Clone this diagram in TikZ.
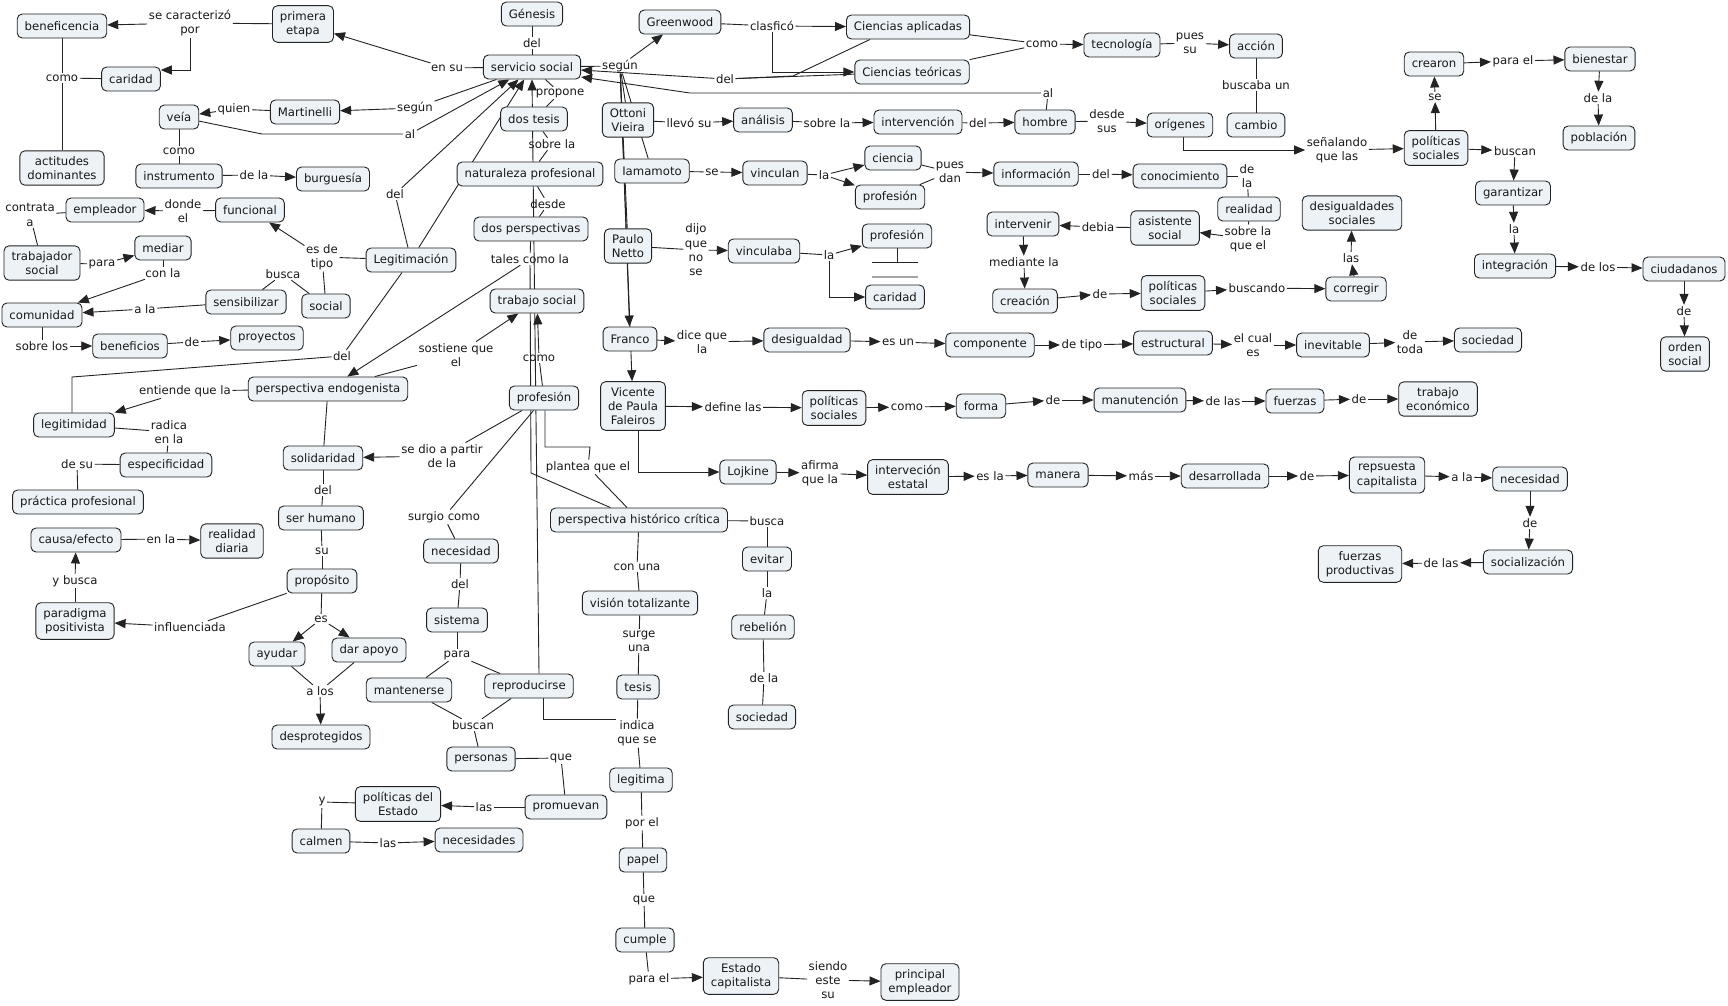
\documentclass[tikz,border=0pt]{standalone}
\usepackage{fontspec}
\setmainfont{DejaVu Sans}
\usetikzlibrary{arrows.meta}
\definecolor{nodefill}{RGB}{236,242,245}
\definecolor{edgecol}{RGB}{35,35,35}
\pgfdeclarelayer{bg}
\pgfsetlayers{bg,main}
\newcommand\cmapfont{\fontsize{11.7}{14.3}\selectfont}
\begin{document}
\begin{tikzpicture}[x=1pt,y=-1pt,
  cpt/.style={draw=edgecol, fill=nodefill, rounded corners=5pt, line width=0.9pt, font=\cmapfont, align=center, inner xsep=7.5pt, inner ysep=5.5pt, minimum height=24pt, text=black!90},
  lbl/.style={font=\cmapfont, align=center, inner sep=1.5pt, text=black!90},
  ln/.style={draw=edgecol, line width=0.9pt},
  ar/.style={ln, -{Triangle[length=11pt,width=9pt]}}]
\useasboundingbox (0,0) rectangle (1728,1005);
% ---------- concepts ----------
\node[cpt] (servicio) at (532,67) {servicio social};
\node[cpt] (genesis) at (532,14) {Génesis};
\node[cpt] (primera) at (303,24) {primera\\etapa};
\node[cpt] (benef) at (62,26) {beneficencia};
\node[cpt] (caridadA) at (131,79) {caridad};
\node[cpt] (actitudes) at (62,168) {actitudes\\dominantes};
\node[cpt] (veia) at (179,117) {veía};
\node[cpt] (martinelli) at (305,112) {Martinelli};
\node[cpt] (instrumento) at (179,176) {instrumento};
\node[cpt] (burguesia) at (333,179) {burguesía};
\node[cpt] (empleador) at (105,210) {empleador};
\node[cpt] (funcional) at (250,210) {funcional};
\node[cpt] (trabajador) at (42,263) {trabajador\\social};
\node[cpt] (mediar) at (163,248) {mediar};
\node[cpt] (legitimacion) at (411,260) {Legitimación};
\node[cpt] (sensibilizar) at (246,302) {sensibilizar};
\node[cpt] (social) at (326,306) {social};
\node[cpt] (comunidad) at (42,315) {comunidad};
\node[cpt] (beneficios) at (130,346) {beneficios};
\node[cpt] (proyectos) at (267,338) {proyectos};
\node[cpt] (pendo) at (328,389) {perspectiva endogenista};
\node[cpt] (legitimidad) at (74,425) {legitimidad};
\node[cpt] (especificidad) at (166,465) {especificidad};
\node[cpt] (practica) at (78,502) {práctica profesional};
\node[cpt] (causa) at (76,540) {causa/efecto};
\node[cpt] (realidadD) at (232,541) {realidad\\diaria};
\node[cpt] (paradigma) at (75,621) {paradigma\\positivista};
\node[cpt] (solidaridad) at (323,458) {solidaridad};
\node[cpt] (serhumano) at (321,518) {ser humano};
\node[cpt] (proposito) at (322,581) {propósito};
\node[cpt] (ayudar) at (277,654) {ayudar};
\node[cpt] (darapoyo) at (369,650) {dar apoyo};
\node[cpt] (desprotegidos) at (321,737) {desprotegidos};
\node[cpt] (mantenerse) at (409,690) {mantenerse};
\node[cpt] (politicasE) at (398,804) {políticas del\\Estado};
\node[cpt] (calmen) at (321,841) {calmen};
\node[cpt] (necesidades) at (479,840) {necesidades};
\node[cpt] (promuevan) at (566,807) {promuevan};
\node[cpt] (personas) at (481,759) {personas};
\node[cpt] (reproducirse) at (529,686) {reproducirse};
\node[cpt] (sistema) at (457,620) {sistema};
\node[cpt] (necesidadL) at (461,551) {necesidad};
\node[cpt] (tesis) at (638,687) {tesis};
\node[cpt] (vision) at (640,603) {visión totalizante};
\node[cpt] (legitima) at (641,780) {legitima};
\node[cpt] (papel) at (643,860) {papel};
\node[cpt] (cumple) at (645,940) {cumple};
\node[cpt] (estadocap) at (741,976) {Estado\\capitalista};
\node[cpt] (principal) at (920,982) {principal\\empleador};
\node[cpt] (rebelion) at (763,627) {rebelión};
\node[cpt] (sociedadB) at (762,717) {sociedad};
\node[cpt] (evitar) at (767,559) {evitar};
\node[cpt] (phc) at (639,520) {perspectiva histórico crítica};
\node[cpt] (profesionC) at (544,398) {profesión};
\node[cpt] (trabajosocial) at (537,301) {trabajo social};
\node[cpt] (franco) at (630,339) {Franco};
\node[cpt] (desigualdad) at (807,340) {desigualdad};
\node[cpt] (vicente) at (633,406) {Vicente\\de Paula\\Faleiros};
\node[cpt] (politicasM) at (834,408) {políticas\\sociales};
\node[cpt] (lojkine) at (748,472) {Lojkine};
\node[cpt] (componente) at (990,345) {componente};
\node[cpt] (estructural) at (1173,343) {estructural};
\node[cpt] (inevitable) at (1333,345) {inevitable};
\node[cpt] (sociedadR) at (1488,340) {sociedad};
\node[cpt] (forma) at (981,406) {forma};
\node[cpt] (manutencion) at (1140,400) {manutención};
\node[cpt] (fuerzas) at (1295,401) {fuerzas};
\node[cpt] (trabajoeco) at (1438,399) {trabajo\\económico};
\node[cpt] (intestatal) at (908,477) {interveción\\estatal};
\node[cpt] (manera) at (1058,475) {manera};
\node[cpt] (desarrollada) at (1225,476) {desarrollada};
\node[cpt] (repsuesta) at (1387,475) {repsuesta\\capitalista};
\node[cpt] (necesidadR) at (1530,479) {necesidad};
\node[cpt] (socializacion) at (1528,562) {socialización};
\node[cpt] (fuerzasprod) at (1360,564) {fuerzas\\productivas};
\node[cpt] (ordensocial) at (1685,354) {orden\\social};
\node[cpt] (ciudadanos) at (1684,269) {ciudadanos};
\node[cpt] (integracion) at (1515,266) {integración};
\node[cpt] (garantizar) at (1513,193) {garantizar};
\node[cpt] (politicasR) at (1436,148) {políticas\\sociales};
\node[cpt] (crearon) at (1434,64) {crearon};
\node[cpt] (bienestar) at (1600,59) {bienestar};
\node[cpt] (poblacion) at (1599,138) {población};
\node[cpt] (desigualdades) at (1352,213) {desigualdades\\sociales};
\node[cpt] (corregir) at (1356,289) {corregir};
\node[cpt] (politicasMR) at (1173,293) {políticas\\sociales};
\node[cpt] (creacion) at (1025,301) {creación};
\node[cpt] (intervenir) at (1023,224) {intervenir};
\node[cpt] (asistente) at (1165,228) {asistente\\social};
\node[cpt] (realidad) at (1249,209) {realidad};
\node[cpt] (conocimiento) at (1180,176) {conocimiento};
\node[cpt] (informacion) at (1036,174) {información};
\node[cpt] (ciencia) at (893,158) {ciencia};
\node[cpt] (profesionT) at (890,197) {profesión};
\node[cpt] (profesionB) at (897,236) {profesión};
\node[cpt] (caridadB) at (895,297) {caridad};
\node[cpt] (vinculaba) at (764,251) {vinculaba};
\node[cpt] (paulo) at (628,246) {Paulo\\Netto};
\node[cpt] (vinculan) at (775,173) {vinculan};
\node[cpt] (iamamoto) at (652,171) {Iamamoto};
\node[cpt] (dosper) at (531,229) {dos perspectivas};
\node[cpt] (naturaleza) at (530,174) {naturaleza profesional};
\node[cpt] (dostesis) at (534,119) {dos tesis};
\node[cpt] (ottoni) at (628,120) {Ottoni\\Vieira};
\node[cpt] (analisis) at (763,120) {análisis};
\node[cpt] (intervencion) at (918,122) {intervención};
\node[cpt] (hombre) at (1045,122) {hombre};
\node[cpt] (origenes) at (1180,125) {orígenes};
\node[cpt] (cambio) at (1256,125) {cambio};
\node[cpt] (accion) at (1256,46) {acción};
\node[cpt] (tecnologia) at (1122,45) {tecnología};
\node[cpt] (cienapl) at (908,27) {Ciencias aplicadas};
\node[cpt] (cienteo) at (912,72) {Ciencias teóricas};
\node[cpt] (greenwood) at (680,22) {Greenwood};
% ---------- linking phrases ----------
\node[lbl] (lEnsu) at (447,68) {en su};
\node[lbl] (lDelG) at (532,43) {del};
\node[lbl] (lSeCar) at (190,23) {se caracterizó\\por};
\node[lbl] (lComo1) at (62,78) {como};
\node[lbl] (lSegunM) at (415,108) {según};
\node[lbl] (lQuien) at (234,109) {quien};
\node[lbl] (lAl1) at (410,134) {al};
\node[lbl] (lComo2) at (179,151) {como};
\node[lbl] (lDeLa1) at (254,175) {de la};
\node[lbl] (lContrata) at (30,215) {contrata\\a};
\node[lbl] (lDondeEl) at (183,211) {donde\\el};
\node[lbl] (lPara1) at (102,264) {para};
\node[lbl] (lConLa) at (163,273) {con la};
\node[lbl] (lEsDeTipo) at (322,257) {es de\\tipo};
\node[lbl] (lBusca1) at (283,274) {busca};
\node[lbl] (lDelLeg) at (395,194) {del};
\node[lbl] (lALa1) at (145,309) {a la};
\node[lbl] (lSobreLos) at (42,346) {sobre los};
\node[lbl] (lDe1) at (192,342) {de};
\node[lbl] (lDel2) at (342,356) {del};
\node[lbl] (lEntiende) at (185,391) {entiende que la};
\node[lbl] (lRadica) at (169,432) {radica\\en la};
\node[lbl] (lDeSu) at (77,464) {de su};
\node[lbl] (lEnLa) at (161,539) {en la};
\node[lbl] (lYBusca) at (75,581) {y busca};
\node[lbl] (lInfluenciada) at (190,627) {influenciada};
\node[lbl] (lSeDio) at (442,456) {se dio a partir\\de la};
\node[lbl] (lDel3) at (323,490) {del};
\node[lbl] (lSu) at (322,551) {su};
\node[lbl] (lEs) at (321,619) {es};
\node[lbl] (lALos) at (320,691) {a los};
\node[lbl] (lY) at (322,802) {y};
\node[lbl] (lLas1) at (388,843) {las};
\node[lbl] (lLas2) at (484,807) {las};
\node[lbl] (lQue1) at (561,758) {que};
\node[lbl] (lBuscan) at (473,725) {buscan};
\node[lbl] (lPara2) at (457,655) {para};
\node[lbl] (lDel4) at (460,584) {del};
\node[lbl] (lSurgio) at (444,517) {surgio como};
\node[lbl] (lSurge) at (639,641) {surge\\una};
\node[lbl] (lIndica) at (637,733) {indica\\que se};
\node[lbl] (lPorEl) at (642,823) {por el};
\node[lbl] (lQue2) at (644,900) {que};
\node[lbl] (lParaEl) at (649,979) {para el};
\node[lbl] (lSiendo) at (828,980) {siendo\\este\\su};
\node[lbl] (lDeLa2) at (764,678) {de la};
\node[lbl] (lLa1) at (767,593) {la};
\node[lbl] (lBusca2) at (767,521) {busca};
\node[lbl] (lConUna) at (637,567) {con una};
\node[lbl] (lPlantea) at (588,467) {plantea que el};
\node[lbl] (lComo3) at (539,358) {como};
\node[lbl] (lSostiene) at (456,355) {sostiene que\\el};
\node[lbl] (lTales) at (530,259) {tales como la};
\node[lbl] (lDesde) at (548,204) {desde};
\node[lbl] (lSobreLa1) at (552,144) {sobre la};
\node[lbl] (lPropone) at (560,93) {propone};
\node[lbl] (lSegun) at (620,66) {según};
\node[lbl] (lClasfico) at (772,26) {clasficó};
\node[lbl] (lDel5) at (725,79) {del};
\node[lbl] (lComo4) at (1042,44) {como};
\node[lbl] (lPuesSu) at (1190,43) {pues\\su};
\node[lbl] (lBuscaba) at (1256,85) {buscaba un};
\node[lbl] (lAl2) at (1048,93) {al};
\node[lbl] (lLlevo) at (689,123) {llevó su};
\node[lbl] (lSobreLa2) at (827,123) {sobre la};
\node[lbl] (lDel6) at (978,123) {del};
\node[lbl] (lDesdeSus) at (1107,121) {desde\\sus};
\node[lbl] (lSenalando) at (1337,150) {señalando\\que las};
\node[lbl] (lSe1) at (1435,97) {se};
\node[lbl] (lParaEl2) at (1513,61) {para el};
\node[lbl] (lDeLa3) at (1598,98) {de la};
\node[lbl] (lBuscan2) at (1515,151) {buscan};
\node[lbl] (lLa2) at (1514,229) {la};
\node[lbl] (lDeLos) at (1598,267) {de los};
\node[lbl] (lDe2) at (1684,311) {de};
\node[lbl] (lLas3) at (1351,258) {las};
\node[lbl] (lBuscando) at (1257,288) {buscando};
\node[lbl] (lDe3) at (1100,294) {de};
\node[lbl] (lMediante) at (1024,262) {mediante la};
\node[lbl] (lDebia) at (1098,227) {debia};
\node[lbl] (lSobreLaQue) at (1248,239) {sobre la\\que el};
\node[lbl] (lDeLa4) at (1247,176) {de\\la};
\node[lbl] (lDel7) at (1101,174) {del};
\node[lbl] (lPuesDan) at (950,172) {pues\\dan};
\node[lbl] (lLa3) at (824,175) {la};
\node[lbl] (lSe2) at (712,172) {se};
\node[lbl] (lDijo) at (696,250) {dijo\\que\\no\\se};
\node[lbl] (lLa4) at (829,255) {la};
\node[lbl] (lDiceQue) at (702,342) {dice que\\la};
\node[lbl] (lEsUn) at (898,342) {es un};
\node[lbl] (lDeTipo) at (1082,345) {de tipo};
\node[lbl] (lElCual) at (1253,345) {el cual\\es};
\node[lbl] (lDeToda) at (1410,342) {de\\toda};
\node[lbl] (lDefine) at (733,407) {define las};
\node[lbl] (lComo5) at (907,407) {como};
\node[lbl] (lDe4) at (1053,400) {de};
\node[lbl] (lDeLas) at (1223,401) {de las};
\node[lbl] (lDe5) at (1359,399) {de};
\node[lbl] (lAfirma) at (820,473) {afirma\\que la};
\node[lbl] (lEsLa) at (990,476) {es la};
\node[lbl] (lMas) at (1141,476) {más};
\node[lbl] (lDe6) at (1307,476) {de};
\node[lbl] (lALa2) at (1462,477) {a la};
\node[lbl] (lDe7) at (1530,523) {de};
\node[lbl] (lDeLas2) at (1441,563) {de las};
% ---------- bend points ----------
\coordinate (kAl) at (262,134);
\coordinate (kL1) at (72,377);
\coordinate (kI) at (543,719);
\coordinate (kP1) at (590,447);
\coordinate (kP2) at (545,447);
\coordinate (kT) at (531,473);
\coordinate (kC) at (793,76);
\coordinate (kA) at (690,93);
\coordinate (kS) at (897,262);
\coordinate (kS1) at (872,262);
\coordinate (kS2) at (918,262);
\coordinate (kS3) at (872,277);
\coordinate (kS4) at (918,277);
% ---------- connectors ----------
\begin{pgfonlayer}{bg}
\fill[white] (0,0) rectangle (1728,1005);
\draw[ln] (servicio) -- (lEnsu); \draw[ar] (lEnsu) -- (primera);
\draw[ln] (genesis) -- (lDelG); \draw[ln] (lDelG) -- (servicio);
\draw[ln] (primera) -- (lSeCar); \draw[ar] (lSeCar) -- (benef);
\draw[ar] (lSeCar.south) |- ([yshift=9pt]caridadA.east);
\draw[ln] (benef) -- (lComo1); \draw[ln] (lComo1) -- (actitudes); \draw[ln] (caridadA) -- (lComo1);
\draw[ln] (servicio) -- (lSegunM); \draw[ar] (lSegunM) -- (martinelli);
\draw[ln] (martinelli) -- (lQuien); \draw[ar] (lQuien) -- (veia);
\draw[ln] (veia) -- (kAl) -- (lAl1); \draw[ar] (lAl1) -- (servicio);
\draw[ln] (veia) -- (lComo2); \draw[ln] (lComo2) -- (instrumento);
\draw[ln] (instrumento) -- (lDeLa1); \draw[ar] (lDeLa1) -- (burguesia);
\draw[ln] (funcional) -- (lDondeEl); \draw[ar] (lDondeEl) -- (empleador);
\draw[ln] (empleador) -- (lContrata); \draw[ln] (lContrata) -- (trabajador);
\draw[ln] (trabajador) -- (lPara1); \draw[ar] (lPara1) -- (mediar);
\draw[ln] (mediar) -- (lConLa); \draw[ar] (lConLa) -- (comunidad);
\draw[ln] (legitimacion) -- (lEsDeTipo); \draw[ar] (lEsDeTipo) -- (funcional); \draw[ln] (lEsDeTipo) -- (social);
\draw[ln] (social) -- (lBusca1); \draw[ln] (lBusca1) -- (sensibilizar);
\draw[ln] (sensibilizar) -- (lALa1); \draw[ar] (lALa1) -- (comunidad);
\draw[ln] (comunidad) -- (lSobreLos); \draw[ar] (lSobreLos) -- (beneficios);
\draw[ln] (beneficios) -- (lDe1); \draw[ar] (lDe1) -- (proyectos);
\draw[ln] (legitimacion) -- (lDelLeg); \draw[ar] (lDelLeg) -- (servicio);
\draw[ar] (legitimacion) -- (servicio);
\draw[ln] (legitimacion) -- (lDel2); \draw[ln] (lDel2) -- (kL1) -- (kL1 |- legitimidad.north);
\draw[ln] (pendo) -- (lEntiende); \draw[ar] (lEntiende) -- (legitimidad);
\draw[ln] (legitimidad) -- (lRadica); \draw[ln] (lRadica) -- (especificidad);
\draw[ln] (especificidad) -- (lDeSu); \draw[ln] (lDeSu) -- (practica);
\draw[ln] (causa) -- (lEnLa); \draw[ar] (lEnLa) -- (realidadD);
\draw[ln] (paradigma) -- (lYBusca); \draw[ar] (lYBusca) -- (causa);
\draw[ln] (proposito) -- (lInfluenciada); \draw[ar] (lInfluenciada) -- (paradigma);
\draw[ln] (pendo) -- (solidaridad);
\draw[ln] (profesionC) -- (lSeDio); \draw[ar] (lSeDio) -- (solidaridad);
\draw[ln] (solidaridad) -- (lDel3); \draw[ln] (lDel3) -- (serhumano);
\draw[ln] (serhumano) -- (lSu); \draw[ln] (lSu) -- (proposito);
\draw[ln] (proposito) -- (lEs); \draw[ar] (lEs) -- (ayudar); \draw[ar] (lEs) -- (darapoyo);
\draw[ln] (ayudar) -- (lALos); \draw[ln] (darapoyo) -- (lALos); \draw[ar] (lALos) -- (desprotegidos);
\draw[ln] (profesionC) -- (lSurgio); \draw[ln] (lSurgio) -- (necesidadL);
\draw[ln] (necesidadL) -- (lDel4); \draw[ln] (lDel4) -- (sistema);
\draw[ln] (sistema) -- (lPara2); \draw[ln] (lPara2) -- (mantenerse); \draw[ln] (lPara2) -- (reproducirse);
\draw[ln] (mantenerse) -- (lBuscan); \draw[ln] (reproducirse) -- (lBuscan); \draw[ln] (lBuscan) -- (personas);
\draw[ln] (personas) -- (lQue1); \draw[ln] (lQue1) -- (promuevan);
\draw[ln] (promuevan) -- (lLas2); \draw[ar] (lLas2) -- (politicasE);
\draw[ln] (politicasE) -- (lY); \draw[ln] (lY) -- (calmen);
\draw[ln] (calmen) -- (lLas1); \draw[ar] (lLas1) -- (necesidades);
\draw[ln] (phc) -- (lBusca2); \draw[ln] (lBusca2) -- (evitar);
\draw[ln] (evitar) -- (lLa1); \draw[ln] (lLa1) -- (rebelion);
\draw[ln] (rebelion) -- (lDeLa2); \draw[ln] (lDeLa2) -- (sociedadB);
\draw[ln] (phc) -- (lConUna); \draw[ln] (lConUna) -- (vision);
\draw[ln] (vision) -- (lSurge); \draw[ln] (lSurge) -- (tesis);
\draw[ln] (tesis) -- (lIndica); \draw[ln] (lIndica) -- (legitima);
\draw[ln] (lIndica.west |- kI) -- (kI) -- (kI |- reproducirse.south);
\draw[ln] (legitima) -- (lPorEl); \draw[ln] (lPorEl) -- (papel);
\draw[ln] (papel) -- (lQue2); \draw[ln] (lQue2) -- (cumple);
\draw[ln] (cumple) -- (lParaEl); \draw[ar] (lParaEl) -- (estadocap);
\draw[ln] (estadocap) -- (lSiendo); \draw[ar] (lSiendo) -- (principal);
\draw[ln] (phc) -- (lPlantea); \draw[ln] (lPlantea) -- (kP1) -- (kP2) -- (kP2 |- profesionC.south);
\draw[ln] (profesionC) -- (lComo3); \draw[ar] (lComo3) -- (trabajosocial);
\draw[ln] (pendo) -- (lSostiene); \draw[ar] (lSostiene) -- (trabajosocial);
\draw[ln] (dosper) -- (lTales); \draw[ar] (lTales) -- (pendo); \draw[ln] (lTales) -- (kT) -- (phc);
\draw[ar] ([xshift=10pt]reproducirse.north) -- (servicio.south);
\draw[ln] (naturaleza) -- (lSobreLa1); \draw[ln] (lSobreLa1) -- (dostesis);
\draw[ln] (servicio) -- (lPropone); \draw[ln] (lPropone) -- (dostesis);
\draw[ln] (naturaleza) -- (lDesde); \draw[ln] (lDesde) -- (dosper);
\draw[ln] (servicio) -- (lSegun); \draw[ar] (lSegun) -- (greenwood);
\draw[ln] (lSegun) -- (ottoni); \draw[ln] (lSegun) -- (iamamoto); \draw[ln] (lSegun) -- (paulo);
\draw[ar] (lSegun) -- (franco); \draw[ar] (lSegun) -- (vicente);
\draw[ln] (greenwood) -- (lClasfico); \draw[ar] (lClasfico) -- (cienapl); \draw[ar] (lClasfico.south) |- (cienteo.west);
\draw[ln] ([xshift=24pt]cienapl.south west) -- (kC) -- (lDel5); \draw[ln] (cienteo) -- (lDel5); \draw[ar] (lDel5) -- (servicio);
\draw[ln] (hombre) -- (lAl2); \draw[ar] (lAl2) -- (kA) -- ([yshift=-10pt]servicio.east);
\draw[ln] (cienapl) -- (lComo4); \draw[ln] (cienteo) -- (lComo4); \draw[ar] (lComo4) -- (tecnologia);
\draw[ln] (tecnologia) -- (lPuesSu); \draw[ar] (lPuesSu) -- (accion);
\draw[ln] (accion) -- (lBuscaba); \draw[ln] (lBuscaba) -- (cambio);
\draw[ln] (ottoni) -- (lLlevo); \draw[ar] (lLlevo) -- (analisis);
\draw[ln] (analisis) -- (lSobreLa2); \draw[ar] (lSobreLa2) -- (intervencion);
\draw[ln] (intervencion) -- (lDel6); \draw[ar] (lDel6) -- (hombre);
\draw[ln] (hombre) -- (lDesdeSus); \draw[ar] (lDesdeSus) -- (origenes);
\draw[ar] ([xshift=3pt]origenes.south) |- (lSenalando.west); \draw[ar] (lSenalando) -- (politicasR);
\draw[ar] (politicasR) -- (lSe1); \draw[ar] (lSe1) -- (crearon);
\draw[ar] (crearon) -- (lParaEl2); \draw[ar] (lParaEl2) -- (bienestar);
\draw[ar] (bienestar) -- (lDeLa3); \draw[ar] (lDeLa3) -- (poblacion);
\draw[ar] (politicasR) -- (lBuscan2); \draw[ar] (lBuscan2) -- (garantizar);
\draw[ar] (garantizar) -- (lLa2); \draw[ar] (lLa2) -- (integracion);
\draw[ar] (integracion) -- (lDeLos); \draw[ar] (lDeLos) -- (ciudadanos);
\draw[ar] (ciudadanos) -- (lDe2); \draw[ar] (lDe2) -- (ordensocial);
\draw[ln] (iamamoto) -- (lSe2); \draw[ar] (lSe2) -- (vinculan);
\draw[ln] (vinculan) -- (lLa3); \draw[ar] (lLa3) -- (ciencia); \draw[ar] (lLa3) -- (profesionT);
\draw[ln] (ciencia) -- (lPuesDan); \draw[ln] (profesionT) -- (lPuesDan); \draw[ar] (lPuesDan) -- (informacion);
\draw[ln] (informacion) -- (lDel7); \draw[ar] (lDel7) -- (conocimiento);
\draw[ln] (conocimiento) -- (lDeLa4); \draw[ln] (lDeLa4) -- (realidad);
\draw[ln] (realidad) -- (lSobreLaQue); \draw[ar] (lSobreLaQue) -- (asistente);
\draw[ln] (asistente) -- (lDebia); \draw[ar] (lDebia) -- (intervenir);
\draw[ar] (intervenir) -- (lMediante); \draw[ar] (lMediante) -- (creacion);
\draw[ar] (creacion) -- (lDe3); \draw[ar] (lDe3) -- (politicasMR);
\draw[ar] (politicasMR) -- (lBuscando); \draw[ar] (lBuscando) -- (corregir);
\draw[ar] (corregir) -- (lLas3); \draw[ar] (lLas3) -- (desigualdades);
\draw[ln] (paulo) -- (lDijo); \draw[ar] (lDijo) -- (vinculaba);
\draw[ln] (vinculaba) -- (lLa4); \draw[ar] (lLa4) -- (profesionB); \draw[ar] (lLa4.south) |- (caridadB.west);
\draw[ln] (profesionB) -- (kS);
\draw[ln] (kS1) -- (kS2);
\draw[draw=gray!70, line width=1.6pt] (kS3) -- (kS4);
\draw[ar] (franco) -- (lDiceQue); \draw[ar] (lDiceQue) -- (desigualdad);
\draw[ar] (desigualdad) -- (lEsUn); \draw[ar] (lEsUn) -- (componente);
\draw[ar] (componente) -- (lDeTipo); \draw[ar] (lDeTipo) -- (estructural);
\draw[ar] (estructural) -- (lElCual); \draw[ar] (lElCual) -- (inevitable);
\draw[ar] (inevitable) -- (lDeToda); \draw[ar] (lDeToda) -- (sociedadR);
\draw[ar] (vicente) -- (lDefine); \draw[ar] (lDefine) -- (politicasM);
\draw[ar] (politicasM) -- (lComo5); \draw[ar] (lComo5) -- (forma);
\draw[ar] (forma) -- (lDe4); \draw[ar] (lDe4) -- (manutencion);
\draw[ar] (manutencion) -- (lDeLas); \draw[ar] (lDeLas) -- (fuerzas);
\draw[ar] (fuerzas) -- (lDe5); \draw[ar] (lDe5) -- (trabajoeco);
\draw[ar] ([xshift=5pt]vicente.south) |- (lojkine.west);
\draw[ar] (lojkine) -- (lAfirma); \draw[ar] (lAfirma) -- (intestatal);
\draw[ar] (intestatal) -- (lEsLa); \draw[ar] (lEsLa) -- (manera);
\draw[ar] (manera) -- (lMas); \draw[ar] (lMas) -- (desarrollada);
\draw[ar] (desarrollada) -- (lDe6); \draw[ar] (lDe6) -- (repsuesta);
\draw[ar] (repsuesta) -- (lALa2); \draw[ar] (lALa2) -- (necesidadR);
\draw[ar] (necesidadR) -- (lDe7); \draw[ar] (lDe7) -- (socializacion);
\draw[ar] (socializacion) -- (lDeLas2); \draw[ar] (lDeLas2) -- (fuerzasprod);
\end{pgfonlayer}
\end{tikzpicture}
\end{document}
